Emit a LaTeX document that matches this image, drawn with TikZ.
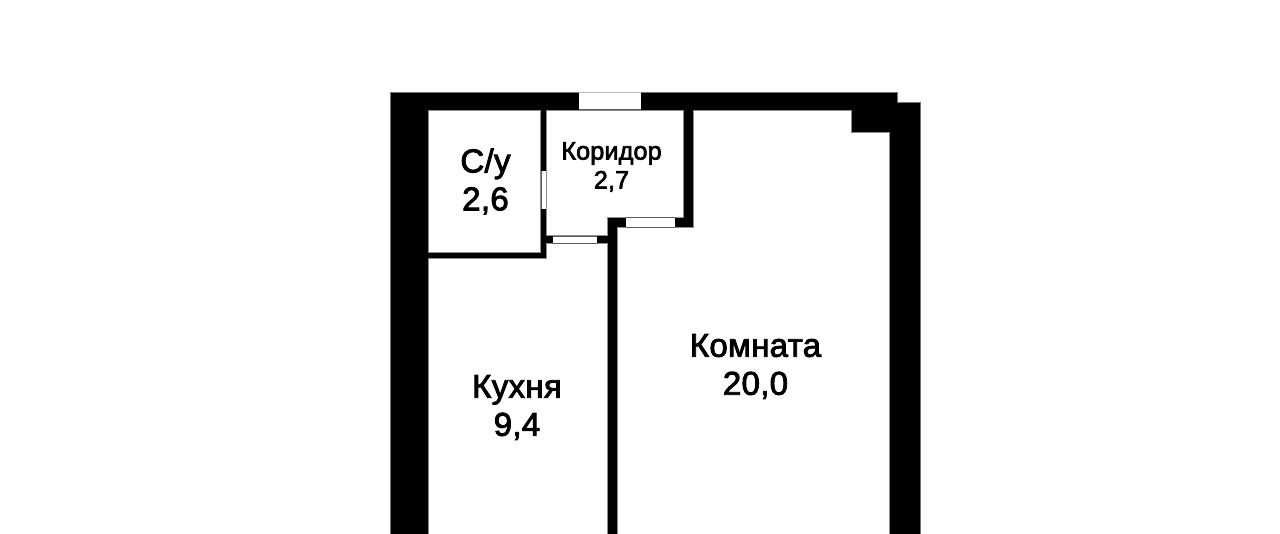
\documentclass[tikz,border=0pt]{standalone}
\usepackage{fontspec}
\setmainfont{Liberation Sans}[FakeBold=2.6]
\tikzset{
  room/.style={fill=white,draw=black!45,line width=0.5pt},
  wall/.style={fill=black,draw=black!55,line width=0.4pt},
  opening/.style={fill=white,draw=none},
  sill/.style={draw=black!65,line width=1pt},
  topedge/.style={draw=black!25,line width=0.5pt},
  biglabel/.style={font=\fontsize{33}{38}\selectfont\addfontfeatures{LetterSpace=1},align=center,inner sep=0pt,text=black},
  smalllabel/.style={font=\fontsize{25.2}{29}\selectfont\addfontfeatures{LetterSpace=0.5},align=center,inner sep=0pt,text=black}
}
\begin{document}
\begin{tikzpicture}[x=1pt,y=-1pt]
\useasboundingbox (0,0) rectangle (1280,533);
\fill[white] (0,0) rectangle (1280,533);
\begin{scope}
\clip (0,0) rectangle (1280,533);
% wall mass
\path[wall] (390,92.5) -- (897.5,92.5) -- (897.5,102) -- (920,102) -- (920,540) -- (390,540) -- cycle;
% rooms
\path[room] (428.5,110) -- (540,110) -- (540,252) -- (428.5,252) -- cycle;
\path[room] (546,110) -- (683.5,110) -- (683.5,217) -- (607,217) -- (607,235.7) -- (546,235.7) -- cycle;
\path[room] (428.5,258) -- (546,258) -- (546,243) -- (607,243) -- (607,540) -- (428.5,540) -- cycle;
\path[room] (693.5,110) -- (851,110) -- (851,132.7) -- (889.3,132.7) -- (889.3,540) -- (617.5,540) -- (617.5,227) -- (693.5,227) -- cycle;
% openings
\path[opening] (579,92) rectangle (641,110);
\draw[sill] (579,109.8) -- (641,109.8);
\draw[topedge] (579,92.7) -- (641,92.7);
\path[opening] (626,217) rectangle (675,227);
\draw[sill] (626,217) -- (675,217) (626,227) -- (675,227);
\path[opening] (553,235.5) rectangle (597,243);
\draw[sill] (553,236) -- (597,236) (553,243) -- (597,243);
\path[opening] (540.5,170.7) rectangle (545.7,208.7);
\draw[sill] (541,170.7) -- (541,208.7);
\end{scope}
\node[biglabel] (su) at (485.5,181.5) {С/у\\2,6};
\node[smalllabel] (corr) at (611.5,167) {Коридор\\2,7};
\node[biglabel] (room) at (755.5,366.5) {Комната\\20,0};
\node[biglabel] (kitchen) at (517,407.5) {Кухня\\9,4};
\end{tikzpicture}
\end{document}
